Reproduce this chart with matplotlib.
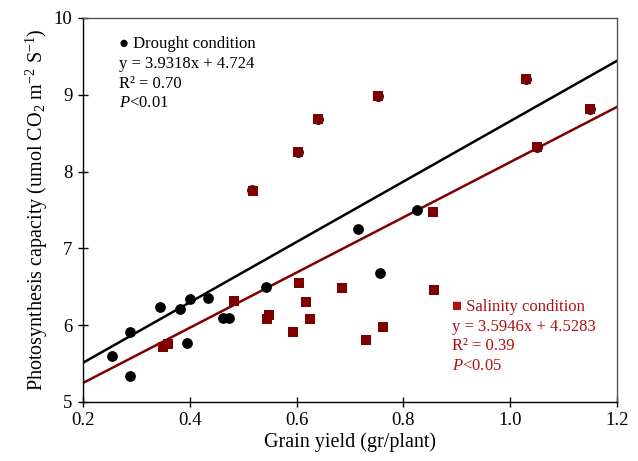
import matplotlib.pyplot as plt
import numpy as np

plt.rcParams['font.family'] = ['Liberation Serif', 'DejaVu Serif']
plt.rcParams['mathtext.fontset'] = 'custom'
plt.rcParams['mathtext.rm'] = 'Liberation Serif'
plt.rcParams['mathtext.it'] = 'Liberation Serif:italic'

# drought condition (black circles)
drought_x = [0.255, 0.288, 0.288, 0.345, 0.382, 0.400, 0.394, 0.434, 0.463, 0.473,
             0.542, 0.716, 0.757, 0.825, 0.516, 0.603, 0.640, 0.752, 1.030, 1.050, 1.149]
drought_y = [5.60, 5.91, 5.34, 6.24, 6.21, 6.34, 5.77, 6.35, 6.10, 6.10,
             6.50, 7.25, 6.68, 7.50, 7.76, 8.26, 8.68, 8.99, 9.21, 8.32, 8.81]

# salinity condition (red squares)
salinity_x = [0.519, 0.603, 0.640, 0.752, 1.030, 1.149, 1.050, 0.855, 0.857, 0.761, 0.731,
              0.349, 0.359, 0.483, 0.544, 0.548, 0.593, 0.604, 0.618, 0.626, 0.685]
salinity_y = [7.75, 8.26, 8.68, 8.99, 9.21, 8.81, 8.32, 7.47, 6.46, 5.97, 5.81,
              5.72, 5.75, 6.32, 6.08, 6.13, 5.91, 6.55, 6.30, 6.08, 6.49]

# trendlines from the chart
drought_fit = (3.9318, 4.724)
salinity_fit = (3.5946, 4.5283)

drought_text = ['\u25cf Drought condition', 'y = 3.9318x + 4.724', 'R\u00b2 = 0.70', r'$P$<0.01']
salinity_text = ['\u25a0 Salinity condition', 'y = 3.5946x + 4.5283', 'R\u00b2 = 0.39', r'$P$<0.05']

red = '#7f0000'
red_text = '#b01010'

W, H = 638, 461
fig = plt.figure(figsize=(6.38, 4.61), dpi=100)
ax = fig.add_axes([0.130, 0.128, 0.837, 0.833])

xs = np.array([0.2, 1.2])
ax.plot(xs, drought_fit[0] * xs + drought_fit[1], color='black', lw=1.8, zorder=2)
ax.plot(xs, salinity_fit[0] * xs + salinity_fit[1], color=red, lw=1.8, zorder=2)

ax.scatter(drought_x, drought_y, s=60, marker='o', color='black', zorder=3, lw=0)
ax.scatter(salinity_x, salinity_y, s=48, marker='s', color=red, zorder=4, lw=0)

ax.set_xlim(0.2, 1.2)
ax.set_ylim(5, 10)
ax.set_xticks([0.2, 0.4, 0.6, 0.8, 1.0, 1.2])
ax.set_xticklabels(['0.2', '0.4', '0.6', '0.8', '1.0', '1.2'])
ax.set_yticks([5, 6, 7, 8, 9, 10])
ax.tick_params(direction='inout', length=7, width=1, labelsize=13.5, colors='black', pad=4)
for s in ax.spines.values():
    s.set_color('#555555')
    s.set_linewidth(1)
ax.spines['left'].set_color('black')
ax.spines['bottom'].set_color('black')

ax.set_xlabel('Grain yield (gr/plant)', fontsize=14.5, labelpad=2)
ax.set_ylabel(r'Photosynthesis capacity (umol CO$_2$ m$^{-2}$ S$^{-1}$)', fontsize=14.5, labelpad=3)

# annotation lines, placed at their pixel rows
for line, py in zip(drought_text, [44, 64, 84, 103]):
    fig.text(119 / W, 1 - py / H, line, fontsize=12, va='center', ha='left')
for line, py in zip(salinity_text, [307, 327, 346, 366]):
    fig.text(452 / W, 1 - py / H, line, fontsize=12, va='center', ha='left', color=red_text)

fig.savefig('out.png', dpi=100)
